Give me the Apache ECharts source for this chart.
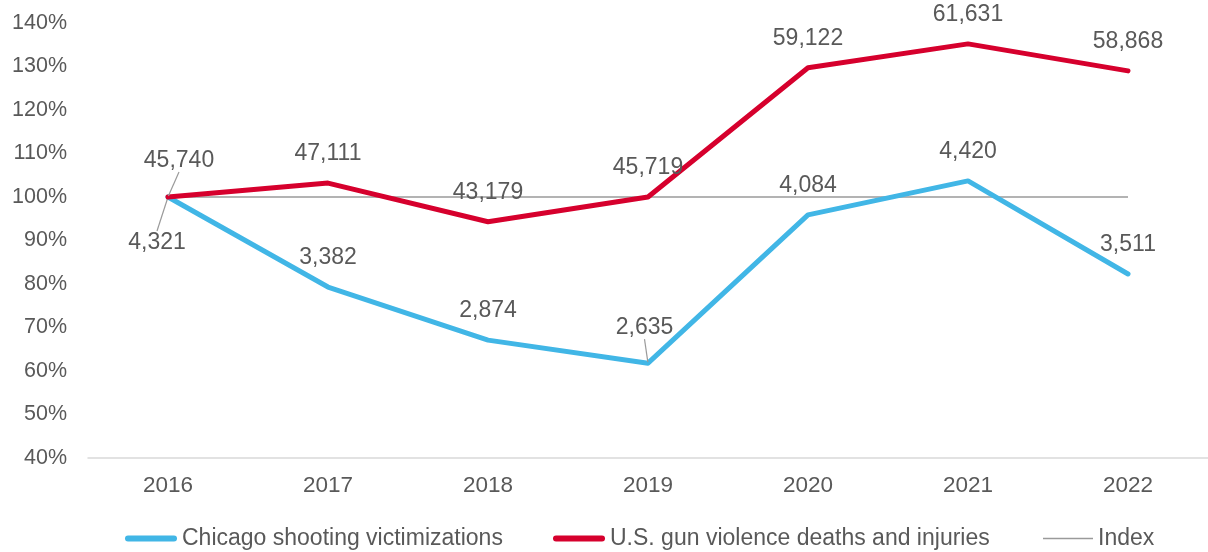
<!DOCTYPE html>
<html>
<head>
<meta charset="utf-8">
<script src="https://cdn.jsdelivr.net/npm/echarts@6/dist/echarts.min.js"></script>
<style>
html,body{margin:0;padding:0;background:#fff;}
#chart{width:1208px;height:552px;}
</style>
</head>
<body>
<div id="chart"></div>
<script>
var years = ['2016','2017','2018','2019','2020','2021','2022'];
var chicagoIndex = [100, 79.3, 67.1, 61.8, 95.9, 103.7, 82.3];
var chicagoCounts = ['4,321','3,382','2,874','2,635','4,084','4,420','3,511'];
var usIndex = [100, 103.2, 94.3, 100, 129.7, 135.2, 129.0];
var usCounts = ['45,740','47,111','43,179','45,719','59,122','61,631','58,868'];
var indexLine = [100, 100, 100, 100, 100, 100, 100];

var FONT = '"Liberation Sans", Arial, sans-serif';
var TXT = '#595959';
var BLUE = '#41b6e6';
var RED = '#d6002d';
var GRAY = '#9a9a9a';

var chart = echarts.init(document.getElementById('chart'), null, {renderer: 'canvas'});

function mkData(vals, labels, leaderIdx) {
  return vals.map(function (v, i) {
    var d = {value: v, labelText: labels[i]};
    d.labelLine = {show: leaderIdx.indexOf(i) >= 0};
    return d;
  });
}

var THICK = 'path://M3,0H49A3,3 0 0 1 49,6H3A3,3 0 0 1 3,0Z';
var THIN = 'path://M0,0H50V1.4H0Z';
var legendText = {fontFamily: FONT, fontSize: 23, color: TXT};

var option = {
  animation: false,
  backgroundColor: '#fff',
  textStyle: {fontFamily: FONT},
  grid: {left: 88, right: -5, top: 23, bottom: 94, containLabel: false},
  legend: [
    {left: 120, top: 522, itemWidth: 52, itemHeight: 6, textStyle: legendText,
      data: [{name: 'Chicago shooting victimizations', icon: THICK}]},
    {left: 548, top: 522, itemWidth: 52, itemHeight: 6, textStyle: legendText,
      data: [{name: 'U.S. gun violence deaths and injuries', icon: THICK}]},
    {left: 1038, top: 522, itemWidth: 50, itemHeight: 6, textStyle: legendText,
      data: [{name: 'Index', icon: THIN}]}
  ],
  xAxis: {
    type: 'category',
    data: years,
    boundaryGap: true,
    axisLine: {lineStyle: {color: '#d9d9d9', width: 1.5}},
    axisTick: {show: false},
    axisLabel: {fontFamily: FONT, fontSize: 22.5, color: TXT, margin: 16},
    splitLine: {show: false}
  },
  yAxis: {
    type: 'value',
    min: 40, max: 140, interval: 10,
    axisLine: {show: false},
    axisTick: {show: false},
    splitLine: {show: false},
    axisLabel: {fontFamily: FONT, fontSize: 21.5, color: TXT, margin: 21,
      formatter: function (v) { return v + '%'; }}
  },
  series: [
    {
      name: 'Index', type: 'line', data: indexLine, z: 1,
      symbol: 'none', silent: true,
      lineStyle: {color: GRAY, width: 1.5},
      itemStyle: {color: GRAY}
    },
    {
      name: 'Chicago shooting victimizations', type: 'line', z: 3,
      data: mkData(chicagoIndex, chicagoCounts, [0, 3]),
      symbol: 'circle', symbolSize: 2, showSymbol: true,
      lineStyle: {color: BLUE, width: 5, join: 'round', cap: 'round'},
      itemStyle: {color: BLUE},
      label: {show: true, position: 'top', distance: 17, fontFamily: FONT, fontSize: 23, color: TXT,
        formatter: function (p) { return p.data.labelText; }},
      labelLine: {show: false, lineStyle: {color: GRAY, width: 1.2}},
      labelLayout: function (p) {
        if (p.dataIndex === 0) return {dx: -11, dy: 75};
        if (p.dataIndex === 3) return {dx: -3.5, dy: -6};
        return {};
      }
    },
    {
      name: 'U.S. gun violence deaths and injuries', type: 'line', z: 4,
      data: mkData(usIndex, usCounts, [0]),
      symbol: 'circle', symbolSize: 2, showSymbol: true,
      lineStyle: {color: RED, width: 5, join: 'round', cap: 'round'},
      itemStyle: {color: RED},
      label: {show: true, position: 'top', distance: 17, fontFamily: FONT, fontSize: 23, color: TXT,
        formatter: function (p) { return p.data.labelText; }},
      labelLine: {show: false, lineStyle: {color: GRAY, width: 1.2}},
      labelLayout: function (p) {
        if (p.dataIndex === 0) return {dx: 11, dy: -7};
        return {};
      }
    }
  ]
};
chart.setOption(option);
</script>
</body>
</html>
